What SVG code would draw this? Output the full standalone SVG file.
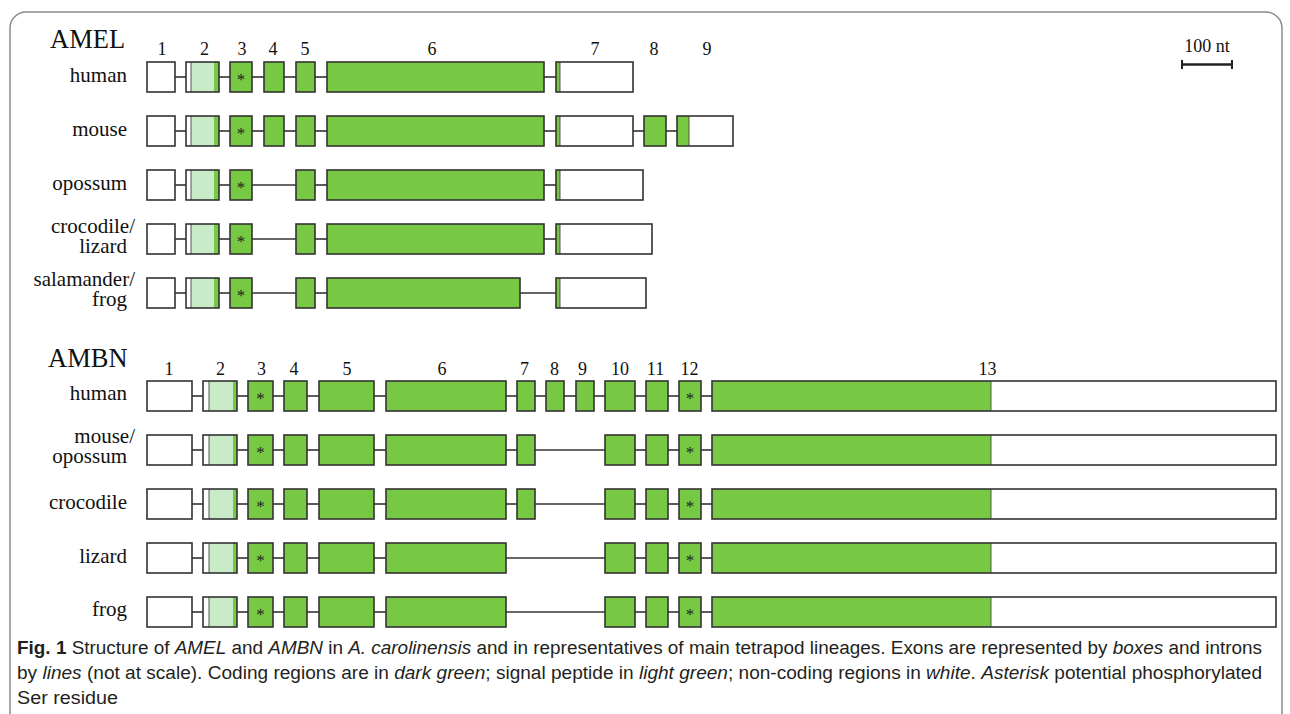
<svg xmlns="http://www.w3.org/2000/svg" width="1290" height="714" viewBox="0 0 1290 714">
<style>
.ol{fill:none;stroke:#333;stroke-width:1.6}
.g{fill:#77c943}
.w{fill:#fff}
.lg{fill:#c8ecc8}
.sep{stroke:#444;stroke-width:0.9}
.in{stroke:#333;stroke-width:1.6}
.t{font-family:"Liberation Serif","Times New Roman",serif;fill:#111}
.lbl{font-size:21px;text-anchor:end}
.num{font-size:18px;text-anchor:middle}
.ttl{font-size:26.5px}
.ast{font-size:17px;text-anchor:middle;fill:#222}
.cap{font-family:"Liberation Sans",Arial,sans-serif;font-size:18px;fill:#231f20}
.it{font-style:italic}
</style>
<rect x="10" y="12" width="1272" height="740" rx="16" fill="#fff" stroke="#8a8a8a" stroke-width="1.5"/>

<g id="titles">
<text class="t ttl" x="50" y="48">AMEL</text>
<text class="t ttl" x="48" y="367">AMBN</text>
</g>

<g id="amel-numbers">
<text class="t num" x="162" y="55">1</text>
<text class="t num" x="204.5" y="55">2</text>
<text class="t num" x="242" y="55">3</text>
<text class="t num" x="273" y="55">4</text>
<text class="t num" x="305" y="55">5</text>
<text class="t num" x="432" y="55">6</text>
<text class="t num" x="595" y="55">7</text>
<text class="t num" x="654" y="55">8</text>
<text class="t num" x="707" y="55">9</text>
</g>

<g id="ambn-numbers">
<text class="t num" x="169" y="375">1</text>
<text class="t num" x="220.5" y="375">2</text>
<text class="t num" x="261.5" y="375">3</text>
<text class="t num" x="294" y="375">4</text>
<text class="t num" x="347" y="375">5</text>
<text class="t num" x="442" y="375">6</text>
<text class="t num" x="524.5" y="375">7</text>
<text class="t num" x="554.5" y="375">8</text>
<text class="t num" x="582.5" y="375">9</text>
<text class="t num" x="620" y="375">10</text>
<text class="t num" x="655.5" y="375">11</text>
<text class="t num" x="689.5" y="375">12</text>
<text class="t num" x="987.5" y="375">13</text>
</g>

<g id="scale-bar">
<text class="t" x="1207" y="52" font-size="18" text-anchor="middle">100 nt</text>
<line x1="1182" y1="64.5" x2="1232" y2="64.5" stroke="#222" stroke-width="2.5"/>
<line x1="1182" y1="60" x2="1182" y2="69" stroke="#222" stroke-width="2"/>
<line x1="1232" y1="60" x2="1232" y2="69" stroke="#222" stroke-width="2"/>
</g>

<g id="row-labels">
<text class="t lbl" x="127" y="82">human</text>
<text class="t lbl" x="127" y="136">mouse</text>
<text class="t lbl" x="127" y="190">opossum</text>
<text class="t lbl" x="135" y="233">crocodile/</text>
<text class="t lbl" x="127" y="253">lizard</text>
<text class="t lbl" x="135" y="286">salamander/</text>
<text class="t lbl" x="127" y="306">frog</text>
<text class="t lbl" x="127" y="400">human</text>
<text class="t lbl" x="135" y="443">mouse/</text>
<text class="t lbl" x="127" y="463">opossum</text>
<text class="t lbl" x="127" y="509">crocodile</text>
<text class="t lbl" x="127" y="563">lizard</text>
<text class="t lbl" x="127" y="616">frog</text>
</g>

<g id="connectors">
<line class="in" x1="175" y1="77" x2="186" y2="77"/>
<line class="in" x1="219" y1="77" x2="230" y2="77"/>
<line class="in" x1="252" y1="77" x2="264" y2="77"/>
<line class="in" x1="284" y1="77" x2="296" y2="77"/>
<line class="in" x1="315" y1="77" x2="327" y2="77"/>
<line class="in" x1="544" y1="77" x2="556" y2="77"/>
<line class="in" x1="175" y1="131" x2="186" y2="131"/>
<line class="in" x1="219" y1="131" x2="230" y2="131"/>
<line class="in" x1="252" y1="131" x2="264" y2="131"/>
<line class="in" x1="284" y1="131" x2="296" y2="131"/>
<line class="in" x1="315" y1="131" x2="327" y2="131"/>
<line class="in" x1="544" y1="131" x2="556" y2="131"/>
<line class="in" x1="633" y1="131" x2="644" y2="131"/>
<line class="in" x1="666" y1="131" x2="677" y2="131"/>
<line class="in" x1="175" y1="185" x2="186" y2="185"/>
<line class="in" x1="219" y1="185" x2="230" y2="185"/>
<line class="in" x1="252" y1="185" x2="296" y2="185"/>
<line class="in" x1="315" y1="185" x2="327" y2="185"/>
<line class="in" x1="544" y1="185" x2="556" y2="185"/>
<line class="in" x1="175" y1="239" x2="186" y2="239"/>
<line class="in" x1="219" y1="239" x2="230" y2="239"/>
<line class="in" x1="252" y1="239" x2="296" y2="239"/>
<line class="in" x1="315" y1="239" x2="327" y2="239"/>
<line class="in" x1="544" y1="239" x2="556" y2="239"/>
<line class="in" x1="175" y1="293" x2="186" y2="293"/>
<line class="in" x1="219" y1="293" x2="230" y2="293"/>
<line class="in" x1="252" y1="293" x2="296" y2="293"/>
<line class="in" x1="315" y1="293" x2="327" y2="293"/>
<line class="in" x1="520" y1="293" x2="556" y2="293"/>
<line class="in" x1="192" y1="396" x2="203" y2="396"/>
<line class="in" x1="237" y1="396" x2="248" y2="396"/>
<line class="in" x1="273" y1="396" x2="284" y2="396"/>
<line class="in" x1="307" y1="396" x2="319" y2="396"/>
<line class="in" x1="374" y1="396" x2="386" y2="396"/>
<line class="in" x1="506" y1="396" x2="517" y2="396"/>
<line class="in" x1="535" y1="396" x2="546" y2="396"/>
<line class="in" x1="564" y1="396" x2="576" y2="396"/>
<line class="in" x1="594" y1="396" x2="605" y2="396"/>
<line class="in" x1="635" y1="396" x2="646" y2="396"/>
<line class="in" x1="668" y1="396" x2="679" y2="396"/>
<line class="in" x1="701" y1="396" x2="712" y2="396"/>
<line class="in" x1="192" y1="450" x2="203" y2="450"/>
<line class="in" x1="237" y1="450" x2="248" y2="450"/>
<line class="in" x1="273" y1="450" x2="284" y2="450"/>
<line class="in" x1="307" y1="450" x2="319" y2="450"/>
<line class="in" x1="374" y1="450" x2="386" y2="450"/>
<line class="in" x1="506" y1="450" x2="517" y2="450"/>
<line class="in" x1="535" y1="450" x2="605" y2="450"/>
<line class="in" x1="635" y1="450" x2="646" y2="450"/>
<line class="in" x1="668" y1="450" x2="679" y2="450"/>
<line class="in" x1="701" y1="450" x2="712" y2="450"/>
<line class="in" x1="192" y1="504" x2="203" y2="504"/>
<line class="in" x1="237" y1="504" x2="248" y2="504"/>
<line class="in" x1="273" y1="504" x2="284" y2="504"/>
<line class="in" x1="307" y1="504" x2="319" y2="504"/>
<line class="in" x1="374" y1="504" x2="386" y2="504"/>
<line class="in" x1="506" y1="504" x2="517" y2="504"/>
<line class="in" x1="535" y1="504" x2="605" y2="504"/>
<line class="in" x1="635" y1="504" x2="646" y2="504"/>
<line class="in" x1="668" y1="504" x2="679" y2="504"/>
<line class="in" x1="701" y1="504" x2="712" y2="504"/>
<line class="in" x1="192" y1="558" x2="203" y2="558"/>
<line class="in" x1="237" y1="558" x2="248" y2="558"/>
<line class="in" x1="273" y1="558" x2="284" y2="558"/>
<line class="in" x1="307" y1="558" x2="319" y2="558"/>
<line class="in" x1="374" y1="558" x2="386" y2="558"/>
<line class="in" x1="506" y1="558" x2="605" y2="558"/>
<line class="in" x1="635" y1="558" x2="646" y2="558"/>
<line class="in" x1="668" y1="558" x2="679" y2="558"/>
<line class="in" x1="701" y1="558" x2="712" y2="558"/>
<line class="in" x1="192" y1="612" x2="203" y2="612"/>
<line class="in" x1="237" y1="612" x2="248" y2="612"/>
<line class="in" x1="273" y1="612" x2="284" y2="612"/>
<line class="in" x1="307" y1="612" x2="319" y2="612"/>
<line class="in" x1="374" y1="612" x2="386" y2="612"/>
<line class="in" x1="506" y1="612" x2="605" y2="612"/>
<line class="in" x1="635" y1="612" x2="646" y2="612"/>
<line class="in" x1="668" y1="612" x2="679" y2="612"/>
<line class="in" x1="701" y1="612" x2="712" y2="612"/>
</g>

<g id="amel-human">
<g id="amel-human-e1"><rect class="w ol" x="147" y="62" width="28" height="30"/></g>
<g id="amel-human-e2"><rect class="w" x="186" y="62" width="5" height="30"/><rect class="lg" x="191" y="62" width="23" height="30"/><rect class="g" x="214" y="62" width="5" height="30"/><line class="sep" x1="191" y1="62" x2="191" y2="92"/><rect class="ol" x="186" y="62" width="33" height="30"/></g>
<g id="amel-human-e3"><rect class="g ol" x="230" y="62" width="22" height="30"/><text class="t ast" x="241" y="85">*</text></g>
<g id="amel-human-e4"><rect class="g ol" x="264" y="62" width="20" height="30"/></g>
<g id="amel-human-e5"><rect class="g ol" x="296" y="62" width="19" height="30"/></g>
<g id="amel-human-e6"><rect class="g ol" x="327" y="62" width="217" height="30"/></g>
<g id="amel-human-e7"><rect class="w" x="556" y="62" width="77" height="30"/><rect class="g" x="556" y="62" width="4" height="30"/><line class="sep" x1="560" y1="62" x2="560" y2="92"/><rect class="ol" x="556" y="62" width="77" height="30"/></g>
</g>

<g id="amel-mouse">
<g id="amel-mouse-e1"><rect class="w ol" x="147" y="116" width="28" height="30"/></g>
<g id="amel-mouse-e2"><rect class="w" x="186" y="116" width="5" height="30"/><rect class="lg" x="191" y="116" width="23" height="30"/><rect class="g" x="214" y="116" width="5" height="30"/><line class="sep" x1="191" y1="116" x2="191" y2="146"/><rect class="ol" x="186" y="116" width="33" height="30"/></g>
<g id="amel-mouse-e3"><rect class="g ol" x="230" y="116" width="22" height="30"/><text class="t ast" x="241" y="139">*</text></g>
<g id="amel-mouse-e4"><rect class="g ol" x="264" y="116" width="20" height="30"/></g>
<g id="amel-mouse-e5"><rect class="g ol" x="296" y="116" width="19" height="30"/></g>
<g id="amel-mouse-e6"><rect class="g ol" x="327" y="116" width="217" height="30"/></g>
<g id="amel-mouse-e7"><rect class="w" x="556" y="116" width="77" height="30"/><rect class="g" x="556" y="116" width="4" height="30"/><line class="sep" x1="560" y1="116" x2="560" y2="146"/><rect class="ol" x="556" y="116" width="77" height="30"/></g>
<g id="amel-mouse-e8"><rect class="g ol" x="644" y="116" width="22" height="30"/></g>
<g id="amel-mouse-e9"><rect class="w" x="677" y="116" width="56" height="30"/><rect class="g" x="677" y="116" width="12" height="30"/><line class="sep" x1="689" y1="116" x2="689" y2="146"/><rect class="ol" x="677" y="116" width="56" height="30"/></g>
</g>

<g id="amel-opossum">
<g id="amel-opossum-e1"><rect class="w ol" x="147" y="170" width="28" height="30"/></g>
<g id="amel-opossum-e2"><rect class="w" x="186" y="170" width="5" height="30"/><rect class="lg" x="191" y="170" width="23" height="30"/><rect class="g" x="214" y="170" width="5" height="30"/><line class="sep" x1="191" y1="170" x2="191" y2="200"/><rect class="ol" x="186" y="170" width="33" height="30"/></g>
<g id="amel-opossum-e3"><rect class="g ol" x="230" y="170" width="22" height="30"/><text class="t ast" x="241" y="193">*</text></g>
<g id="amel-opossum-e5"><rect class="g ol" x="296" y="170" width="19" height="30"/></g>
<g id="amel-opossum-e6"><rect class="g ol" x="327" y="170" width="217" height="30"/></g>
<g id="amel-opossum-e7"><rect class="w" x="556" y="170" width="87" height="30"/><rect class="g" x="556" y="170" width="4" height="30"/><line class="sep" x1="560" y1="170" x2="560" y2="200"/><rect class="ol" x="556" y="170" width="87" height="30"/></g>
</g>

<g id="amel-crocodile">
<g id="amel-crocodile-e1"><rect class="w ol" x="147" y="224" width="28" height="30"/></g>
<g id="amel-crocodile-e2"><rect class="w" x="186" y="224" width="5" height="30"/><rect class="lg" x="191" y="224" width="23" height="30"/><rect class="g" x="214" y="224" width="5" height="30"/><line class="sep" x1="191" y1="224" x2="191" y2="254"/><rect class="ol" x="186" y="224" width="33" height="30"/></g>
<g id="amel-crocodile-e3"><rect class="g ol" x="230" y="224" width="22" height="30"/><text class="t ast" x="241" y="247">*</text></g>
<g id="amel-crocodile-e5"><rect class="g ol" x="296" y="224" width="19" height="30"/></g>
<g id="amel-crocodile-e6"><rect class="g ol" x="327" y="224" width="217" height="30"/></g>
<g id="amel-crocodile-e7"><rect class="w" x="556" y="224" width="96" height="30"/><rect class="g" x="556" y="224" width="4" height="30"/><line class="sep" x1="560" y1="224" x2="560" y2="254"/><rect class="ol" x="556" y="224" width="96" height="30"/></g>
</g>

<g id="amel-salamander">
<g id="amel-salamander-e1"><rect class="w ol" x="147" y="278" width="28" height="30"/></g>
<g id="amel-salamander-e2"><rect class="w" x="186" y="278" width="5" height="30"/><rect class="lg" x="191" y="278" width="23" height="30"/><rect class="g" x="214" y="278" width="5" height="30"/><line class="sep" x1="191" y1="278" x2="191" y2="308"/><rect class="ol" x="186" y="278" width="33" height="30"/></g>
<g id="amel-salamander-e3"><rect class="g ol" x="230" y="278" width="22" height="30"/><text class="t ast" x="241" y="301">*</text></g>
<g id="amel-salamander-e5"><rect class="g ol" x="296" y="278" width="19" height="30"/></g>
<g id="amel-salamander-e6"><rect class="g ol" x="327" y="278" width="193" height="30"/></g>
<g id="amel-salamander-e7"><rect class="w" x="556" y="278" width="90" height="30"/><rect class="g" x="556" y="278" width="4" height="30"/><line class="sep" x1="560" y1="278" x2="560" y2="308"/><rect class="ol" x="556" y="278" width="90" height="30"/></g>
</g>

<g id="ambn-human">
<g id="ambn-human-e1"><rect class="w ol" x="147" y="381" width="45" height="30"/></g>
<g id="ambn-human-e2"><rect class="w" x="203" y="381" width="6" height="30"/><rect class="lg" x="209" y="381" width="24" height="30"/><rect class="g" x="233" y="381" width="4" height="30"/><line class="sep" x1="209" y1="381" x2="209" y2="411"/><rect class="ol" x="203" y="381" width="34" height="30"/></g>
<g id="ambn-human-e3"><rect class="g ol" x="248" y="381" width="25" height="30"/><text class="t ast" x="260.5" y="404">*</text></g>
<g id="ambn-human-e4"><rect class="g ol" x="284" y="381" width="23" height="30"/></g>
<g id="ambn-human-e5"><rect class="g ol" x="319" y="381" width="55" height="30"/></g>
<g id="ambn-human-e6"><rect class="g ol" x="386" y="381" width="120" height="30"/></g>
<g id="ambn-human-e7"><rect class="g ol" x="517" y="381" width="18" height="30"/></g>
<g id="ambn-human-e8"><rect class="g ol" x="546" y="381" width="18" height="30"/></g>
<g id="ambn-human-e9"><rect class="g ol" x="576" y="381" width="18" height="30"/></g>
<g id="ambn-human-e10"><rect class="g ol" x="605" y="381" width="30" height="30"/></g>
<g id="ambn-human-e11"><rect class="g ol" x="646" y="381" width="22" height="30"/></g>
<g id="ambn-human-e12"><rect class="g ol" x="679" y="381" width="22" height="30"/><text class="t ast" x="690" y="404">*</text></g>
<g id="ambn-human-e13"><rect class="w" x="712" y="381" width="564" height="30"/><rect class="g" x="712" y="381" width="279" height="30"/><line class="sep" x1="991" y1="381" x2="991" y2="411"/><rect class="ol" x="712" y="381" width="564" height="30"/></g>
</g>

<g id="ambn-mouse">
<g id="ambn-mouse-e1"><rect class="w ol" x="147" y="435" width="45" height="30"/></g>
<g id="ambn-mouse-e2"><rect class="w" x="203" y="435" width="6" height="30"/><rect class="lg" x="209" y="435" width="24" height="30"/><rect class="g" x="233" y="435" width="4" height="30"/><line class="sep" x1="209" y1="435" x2="209" y2="465"/><rect class="ol" x="203" y="435" width="34" height="30"/></g>
<g id="ambn-mouse-e3"><rect class="g ol" x="248" y="435" width="25" height="30"/><text class="t ast" x="260.5" y="458">*</text></g>
<g id="ambn-mouse-e4"><rect class="g ol" x="284" y="435" width="23" height="30"/></g>
<g id="ambn-mouse-e5"><rect class="g ol" x="319" y="435" width="55" height="30"/></g>
<g id="ambn-mouse-e6"><rect class="g ol" x="386" y="435" width="120" height="30"/></g>
<g id="ambn-mouse-e7"><rect class="g ol" x="517" y="435" width="18" height="30"/></g>
<g id="ambn-mouse-e10"><rect class="g ol" x="605" y="435" width="30" height="30"/></g>
<g id="ambn-mouse-e11"><rect class="g ol" x="646" y="435" width="22" height="30"/></g>
<g id="ambn-mouse-e12"><rect class="g ol" x="679" y="435" width="22" height="30"/><text class="t ast" x="690" y="458">*</text></g>
<g id="ambn-mouse-e13"><rect class="w" x="712" y="435" width="564" height="30"/><rect class="g" x="712" y="435" width="279" height="30"/><line class="sep" x1="991" y1="435" x2="991" y2="465"/><rect class="ol" x="712" y="435" width="564" height="30"/></g>
</g>

<g id="ambn-crocodile">
<g id="ambn-crocodile-e1"><rect class="w ol" x="147" y="489" width="45" height="30"/></g>
<g id="ambn-crocodile-e2"><rect class="w" x="203" y="489" width="6" height="30"/><rect class="lg" x="209" y="489" width="24" height="30"/><rect class="g" x="233" y="489" width="4" height="30"/><line class="sep" x1="209" y1="489" x2="209" y2="519"/><rect class="ol" x="203" y="489" width="34" height="30"/></g>
<g id="ambn-crocodile-e3"><rect class="g ol" x="248" y="489" width="25" height="30"/><text class="t ast" x="260.5" y="512">*</text></g>
<g id="ambn-crocodile-e4"><rect class="g ol" x="284" y="489" width="23" height="30"/></g>
<g id="ambn-crocodile-e5"><rect class="g ol" x="319" y="489" width="55" height="30"/></g>
<g id="ambn-crocodile-e6"><rect class="g ol" x="386" y="489" width="120" height="30"/></g>
<g id="ambn-crocodile-e7"><rect class="g ol" x="517" y="489" width="18" height="30"/></g>
<g id="ambn-crocodile-e10"><rect class="g ol" x="605" y="489" width="30" height="30"/></g>
<g id="ambn-crocodile-e11"><rect class="g ol" x="646" y="489" width="22" height="30"/></g>
<g id="ambn-crocodile-e12"><rect class="g ol" x="679" y="489" width="22" height="30"/><text class="t ast" x="690" y="512">*</text></g>
<g id="ambn-crocodile-e13"><rect class="w" x="712" y="489" width="564" height="30"/><rect class="g" x="712" y="489" width="279" height="30"/><line class="sep" x1="991" y1="489" x2="991" y2="519"/><rect class="ol" x="712" y="489" width="564" height="30"/></g>
</g>

<g id="ambn-lizard">
<g id="ambn-lizard-e1"><rect class="w ol" x="147" y="543" width="45" height="30"/></g>
<g id="ambn-lizard-e2"><rect class="w" x="203" y="543" width="6" height="30"/><rect class="lg" x="209" y="543" width="24" height="30"/><rect class="g" x="233" y="543" width="4" height="30"/><line class="sep" x1="209" y1="543" x2="209" y2="573"/><rect class="ol" x="203" y="543" width="34" height="30"/></g>
<g id="ambn-lizard-e3"><rect class="g ol" x="248" y="543" width="25" height="30"/><text class="t ast" x="260.5" y="566">*</text></g>
<g id="ambn-lizard-e4"><rect class="g ol" x="284" y="543" width="23" height="30"/></g>
<g id="ambn-lizard-e5"><rect class="g ol" x="319" y="543" width="55" height="30"/></g>
<g id="ambn-lizard-e6"><rect class="g ol" x="386" y="543" width="120" height="30"/></g>
<g id="ambn-lizard-e10"><rect class="g ol" x="605" y="543" width="30" height="30"/></g>
<g id="ambn-lizard-e11"><rect class="g ol" x="646" y="543" width="22" height="30"/></g>
<g id="ambn-lizard-e12"><rect class="g ol" x="679" y="543" width="22" height="30"/><text class="t ast" x="690" y="566">*</text></g>
<g id="ambn-lizard-e13"><rect class="w" x="712" y="543" width="564" height="30"/><rect class="g" x="712" y="543" width="279" height="30"/><line class="sep" x1="991" y1="543" x2="991" y2="573"/><rect class="ol" x="712" y="543" width="564" height="30"/></g>
</g>

<g id="ambn-frog">
<g id="ambn-frog-e1"><rect class="w ol" x="147" y="597" width="45" height="30"/></g>
<g id="ambn-frog-e2"><rect class="w" x="203" y="597" width="6" height="30"/><rect class="lg" x="209" y="597" width="24" height="30"/><rect class="g" x="233" y="597" width="4" height="30"/><line class="sep" x1="209" y1="597" x2="209" y2="627"/><rect class="ol" x="203" y="597" width="34" height="30"/></g>
<g id="ambn-frog-e3"><rect class="g ol" x="248" y="597" width="25" height="30"/><text class="t ast" x="260.5" y="620">*</text></g>
<g id="ambn-frog-e4"><rect class="g ol" x="284" y="597" width="23" height="30"/></g>
<g id="ambn-frog-e5"><rect class="g ol" x="319" y="597" width="55" height="30"/></g>
<g id="ambn-frog-e6"><rect class="g ol" x="386" y="597" width="120" height="30"/></g>
<g id="ambn-frog-e10"><rect class="g ol" x="605" y="597" width="30" height="30"/></g>
<g id="ambn-frog-e11"><rect class="g ol" x="646" y="597" width="22" height="30"/></g>
<g id="ambn-frog-e12"><rect class="g ol" x="679" y="597" width="22" height="30"/><text class="t ast" x="690" y="620">*</text></g>
<g id="ambn-frog-e13"><rect class="w" x="712" y="597" width="564" height="30"/><rect class="g" x="712" y="597" width="279" height="30"/><line class="sep" x1="991" y1="597" x2="991" y2="627"/><rect class="ol" x="712" y="597" width="564" height="30"/></g>
</g>

<g id="caption">
<text class="cap" x="17" y="654" textLength="1245" lengthAdjust="spacingAndGlyphs"><tspan font-weight="bold">Fig. 1</tspan>  Structure of <tspan class="it">AMEL</tspan> and <tspan class="it">AMBN</tspan> in <tspan class="it">A. carolinensis</tspan> and in representatives of main tetrapod lineages. Exons are represented by <tspan class="it">boxes</tspan> and introns</text>
<text class="cap" x="17" y="679" textLength="1245" lengthAdjust="spacingAndGlyphs">by <tspan class="it">lines</tspan> (not at scale). Coding regions are in <tspan class="it">dark green</tspan>; signal peptide in <tspan class="it">light green</tspan>; non-coding regions in <tspan class="it">white</tspan>. <tspan class="it">Asterisk</tspan> potential phosphorylated</text>
<text class="cap" x="17" y="704" textLength="101" lengthAdjust="spacingAndGlyphs">Ser residue</text>
</g>
</svg>
